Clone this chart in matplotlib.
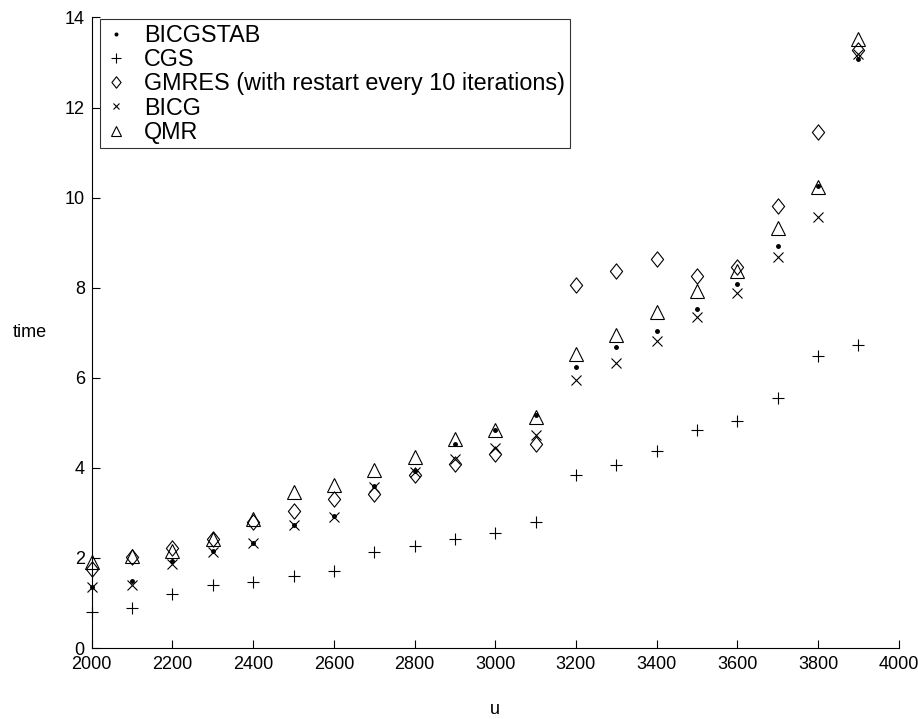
import numpy as np
import matplotlib
matplotlib.use("Agg")
import matplotlib.pyplot as plt
from matplotlib.path import Path

plt.rcParams['font.family'] = ['Liberation Sans', 'DejaVu Sans']

u = [2000, 2100, 2200, 2300, 2400, 2500, 2600, 2700, 2800, 2900,
     3000, 3100, 3200, 3300, 3400, 3500, 3600, 3700, 3800, 3900]

bicgstab = [1.36, 1.48, 1.93, 2.15, 2.34, 2.74, 2.93, 3.60, 3.93, 4.52,
            4.83, 5.17, 6.25, 6.68, 7.03, 7.52, 8.09, 8.92, 10.25, 13.07]
cgs = [0.81, 0.88, 1.19, 1.39, 1.47, 1.60, 1.70, 2.13, 2.27, 2.42,
       2.56, 2.79, 3.84, 4.07, 4.37, 4.83, 5.04, 5.55, 6.49, 6.72]
gmres = [1.76, 2.02, 2.22, 2.41, 2.79, 3.05, 3.30, 3.41, 3.84, 4.09,
         4.30, 4.54, 8.05, 8.38, 8.64, 8.27, 8.46, 9.81, 11.45, 13.28]
bicg = [1.36, 1.39, 1.86, 2.13, 2.34, 2.73, 2.92, 3.58, 3.91, 4.20,
        4.44, 4.72, 5.94, 6.33, 6.81, 7.36, 7.89, 8.68, 9.58, 13.19]
qmr = [1.90, 2.04, 2.15, 2.42, 2.87, 3.47, 3.63, 3.96, 4.24, 4.65,
       4.83, 5.14, 6.52, 6.95, 7.46, 7.92, 8.38, 9.32, 10.23, 13.53]

# diamond a bit taller than wide
diamond = Path([(0, 1), (0.8, 0), (0, -1), (-0.8, 0), (0, 1)],
               [Path.MOVETO, Path.LINETO, Path.LINETO, Path.LINETO, Path.CLOSEPOLY])

fig = plt.figure(figsize=(9.18, 7.19), dpi=100)
ax = fig.add_axes([0.100, 0.0987, 0.879, 0.877])

lw = 0.8
kw = dict(ls='none', clip_on=False)
ax.plot(u, bicgstab, marker='.', ms=5, color='k', label='BICGSTAB', **kw)
ax.plot(u, cgs, marker='+', ms=9, mew=lw, color='k', label='CGS', **kw)
ax.plot(u, gmres, marker=diamond, ms=11, mew=lw, mfc='none', mec='k',
        label='GMRES (with restart every 10 iterations)', **kw)
ax.plot(u, bicg, marker='x', ms=6.5, mew=lw, color='k', label='BICG', **kw)
ax.plot(u, qmr, marker='^', ms=9.5, mew=lw, mfc='none', mec='k', label='QMR', **kw)

ax.set_xlim(2000, 4000)
ax.set_ylim(0, 14)
ax.set_xticks(np.arange(2000, 4001, 200))
ax.set_yticks(np.arange(0, 15, 2))
ax.tick_params(direction='in', length=6, width=0.8, labelsize=13)
ax.tick_params(axis='x', pad=6)
ax.tick_params(axis='y', pad=5)
ax.spines['top'].set_visible(False)
ax.spines['right'].set_visible(False)
ax.spines['left'].set_linewidth(0.8)
ax.spines['bottom'].set_linewidth(0.8)

ax.set_xlabel('u', fontsize=13, labelpad=20)
ax.set_ylabel('time', fontsize=13, rotation=0, labelpad=25, va='center')

leg = ax.legend(loc='upper left', bbox_to_anchor=(0.0099, 0.9968), borderaxespad=0,
                fontsize=16.8, markerscale=0.75, frameon=True, fancybox=False,
                edgecolor='k', handlelength=1.0, handletextpad=0.7,
                labelspacing=0.05, borderpad=0.2)
leg.get_frame().set_linewidth(0.8)

fig.savefig('out.png', dpi=100)
